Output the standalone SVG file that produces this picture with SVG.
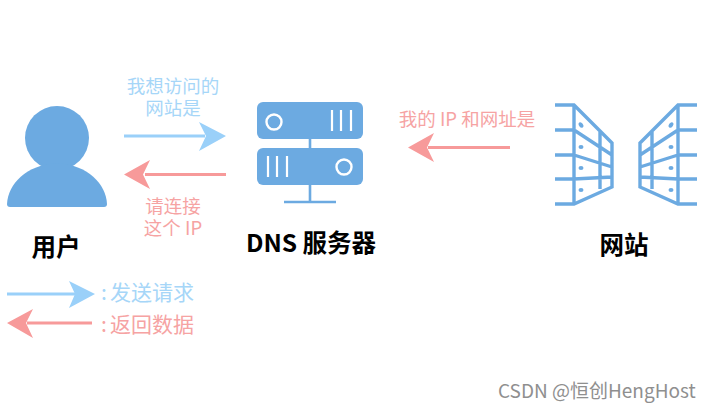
<svg xmlns="http://www.w3.org/2000/svg" width="711" height="412" viewBox="0 0 711 412">
<style>
.t{font-family:"Noto Sans CJK SC","Noto Sans",sans-serif}
.b{font-size:18.500px;fill:#a6d6f8;text-anchor:middle}
.r{font-size:18.500px;fill:#f6a3a3;text-anchor:middle}
.l{font-size:24.500px;font-weight:700;fill:#000;text-anchor:middle}
.ic{fill:#6caae1}
.st{stroke:#6caae1;fill:none}
.w{stroke:#fff;fill:none}
.sb{stroke:#9ad0f9;stroke-width:3.2}
.sr{stroke:#f79a9a;stroke-width:3.2}
.fb{fill:#9ad0f9}
.fr{fill:#f79a9a}
.web{stroke:#6caae1;fill:none;stroke-width:3.400}
</style>
<rect width="711" height="412" fill="#fff"/>
<g id="user">
<circle class="ic" cx="57" cy="138" r="32"/>
<path class="ic" d="M7 204C8 184 26 165 57 163C88 165 106 184 107 204Q107 207 104 207H10Q7 207 7 204Z"/>
<text class="t l" x="56" y="256">用户</text>
</g>
<g id="dns">
<rect class="ic" x="257" y="102" width="106" height="37" rx="6"/>
<rect class="ic" x="257" y="148" width="106" height="37" rx="6"/>
<path class="st" stroke-width="2.6" d="M310 139V148M310 185V202M284 202H336"/>
<circle class="w" stroke-width="2.4" cx="274" cy="122" r="7.500"/>
<circle class="w" stroke-width="2.4" cx="344" cy="167" r="7.500"/>
<path class="w" stroke-width="2.2" d="M332 110V131M341 110V131M351 110V131M268 156V177M277 156V177M287 156V177"/>
<text class="t l" x="311" y="252">DNS 服务器</text>
</g>
<g id="website">
<path class="web" d="M555 105H574L612 143V187L574 204H555M555 130H574M555 155H574M555 179H574L612 177M574 105V204M600 132V189M574 130L612 155M574 155L612 167"/>
<path class="web" d="M697 105H678L640 143V187L678 204H697M697 130H678M697 155H678M697 179H678L640 177M678 105V204M652 132V189M678 130L640 155M678 155L640 167"/>
<g class="ic">
<ellipse cx="581" cy="125" rx="2" ry="3" transform="rotate(-35 581 125)"/>
<ellipse cx="581" cy="147" rx="2.500" ry="2"/>
<ellipse cx="581" cy="168" rx="2.500" ry="2"/>
<ellipse cx="581" cy="190" rx="2.500" ry="2"/>
<ellipse cx="671" cy="125" rx="2" ry="3" transform="rotate(35 671 125)"/>
<ellipse cx="671" cy="147" rx="2.500" ry="2"/>
<ellipse cx="671" cy="168" rx="2.500" ry="2"/>
<ellipse cx="671" cy="190" rx="2.500" ry="2"/>
</g>
<text class="t l" x="624" y="254">网站</text>
</g>
<g id="connectors">
<path class="sb" d="M124 136H205"/>
<path class="fb" d="M226 136L199 122L206 136L199 151Z"/>
<path class="sr" d="M226 174.500H145"/>
<path class="fr" d="M124 174.500L150 160L143 174.500L150 189Z"/>
<path class="sr" d="M510 147.500H428"/>
<path class="fr" d="M408 147.500L434 133L427 147.500L434 162Z"/>
<path class="sb" d="M7 294H75"/>
<path class="fb" d="M95 294L69 281L75 294L69 308Z"/>
<path class="sr" d="M92 323H27"/>
<path class="fr" d="M7 323L33 309L26 323L33 338Z"/>
</g>
<g id="labels">
<text class="t b"><tspan x="173" y="93">我想访问的</tspan><tspan x="173" y="115">网站是</tspan></text>
<text class="t r"><tspan x="173" y="213">请连接</tspan><tspan x="173" y="235">这个 IP</tspan></text>
<text class="t r" x="467" y="126">我的 IP 和网址是</text>
<text class="t" x="101" y="300" font-size="21" fill="#a6d6f8">: <tspan x="110">发送请求</tspan></text>
<text class="t" x="101" y="332" font-size="21" fill="#f6a3a3">: <tspan x="110">返回数据</tspan></text>
<text class="t" x="498" y="398" font-size="19" fill="#8f8f8f">CSDN @恒创HengHost</text>
</g>
</svg>
